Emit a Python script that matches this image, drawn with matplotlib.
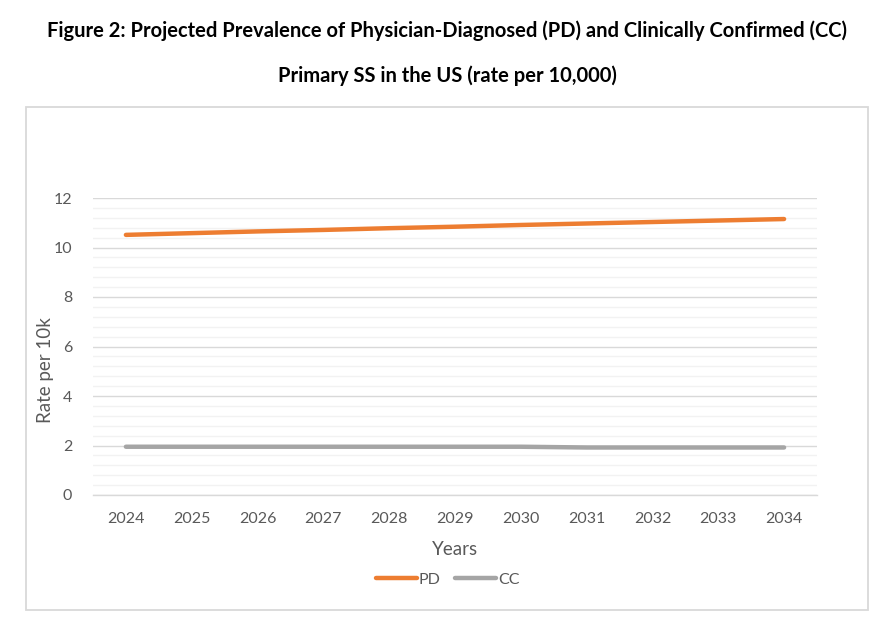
import matplotlib
matplotlib.use("Agg")
import matplotlib.pyplot as plt
from matplotlib.patches import Rectangle
from matplotlib.ticker import MultipleLocator

years = ["2024", "2025", "2026", "2027", "2028", "2029", "2030", "2031", "2032", "2033", "2034"]
pd_vals = [10.51, 10.58, 10.65, 10.71, 10.78, 10.84, 10.91, 10.97, 11.03, 11.09, 11.15]
cc_vals = [1.95, 1.95, 1.95, 1.95, 1.95, 1.95, 1.95, 1.92, 1.92, 1.92, 1.92]
yticks = [0, 2, 4, 6, 8, 10, 12]

plt.rcParams['font.family'] = ['Lato', 'DejaVu Sans']
W, H = 895, 631
fig = plt.figure(figsize=(W / 100, H / 100), dpi=100)

# chart area border
fig.patches.append(Rectangle((26 / W, 1 - 610 / H), (868 - 26) / W, (610 - 107) / H,
                             transform=fig.transFigure, fill=False,
                             edgecolor='#D9D9D9', linewidth=1.3))

fig.text(0.5, 1 - 31 / H,
         "Figure 2: Projected Prevalence of Physician-Diagnosed (PD) and Clinically Confirmed (CC)",
         ha='center', va='center', fontsize=14.5, fontweight='bold', color='black')
fig.text(0.5, 1 - 76 / H, "Primary SS in the US (rate per 10,000)",
         ha='center', va='center', fontsize=14.5, fontweight='bold', color='black')

ax = fig.add_axes([93 / W, 1 - 495 / H, (817 - 93) / W, (495 - 198) / H])
x = list(range(len(years)))
ax.plot(x, pd_vals, color='#ED7D31', linewidth=3.2, solid_capstyle='round', label='PD', zorder=3)
ax.plot(x, cc_vals, color='#A5A5A5', linewidth=3.2, solid_capstyle='round', label='CC', zorder=3)

ax.set_xlim(-0.5, len(years) - 0.5)
ax.set_ylim(0, 12)
ax.set_xticks(x)
ax.set_xticklabels(years)
ax.set_yticks(yticks)
ax.yaxis.set_minor_locator(MultipleLocator(0.4))
ax.grid(True, which='major', axis='y', color='#D9D9D9', linewidth=1.0, zorder=1)
ax.grid(True, which='minor', axis='y', color='#F2F2F2', linewidth=1.0, zorder=0)
for s in ['top', 'right', 'left']:
    ax.spines[s].set_visible(False)
ax.spines['bottom'].set_color('#D9D9D9')
ax.spines['bottom'].set_linewidth(1.0)
ax.tick_params(axis='both', which='both', length=0, labelsize=11.5, colors='#595959')
ax.tick_params(axis='x', pad=12)
ax.tick_params(axis='y', pad=15)

ax.set_xlabel("Years", fontsize=13.5, color='#595959')
ax.xaxis.set_label_coords(0.5, -(541 - 495) / 297)
ax.set_ylabel("Rate per 10k", fontsize=13.5, color='#595959')
ax.yaxis.set_label_coords(-(93 - 54) / 724, 0.42)

leg = fig.legend(loc='center', bbox_to_anchor=(0.5, 1 - 580 / H), ncol=2, frameon=False,
                 fontsize=11.5, handlelength=2.6, columnspacing=0.9, handletextpad=0.1)
for t in leg.get_texts():
    t.set_color('#595959')

fig.savefig("out.png", dpi=100)
